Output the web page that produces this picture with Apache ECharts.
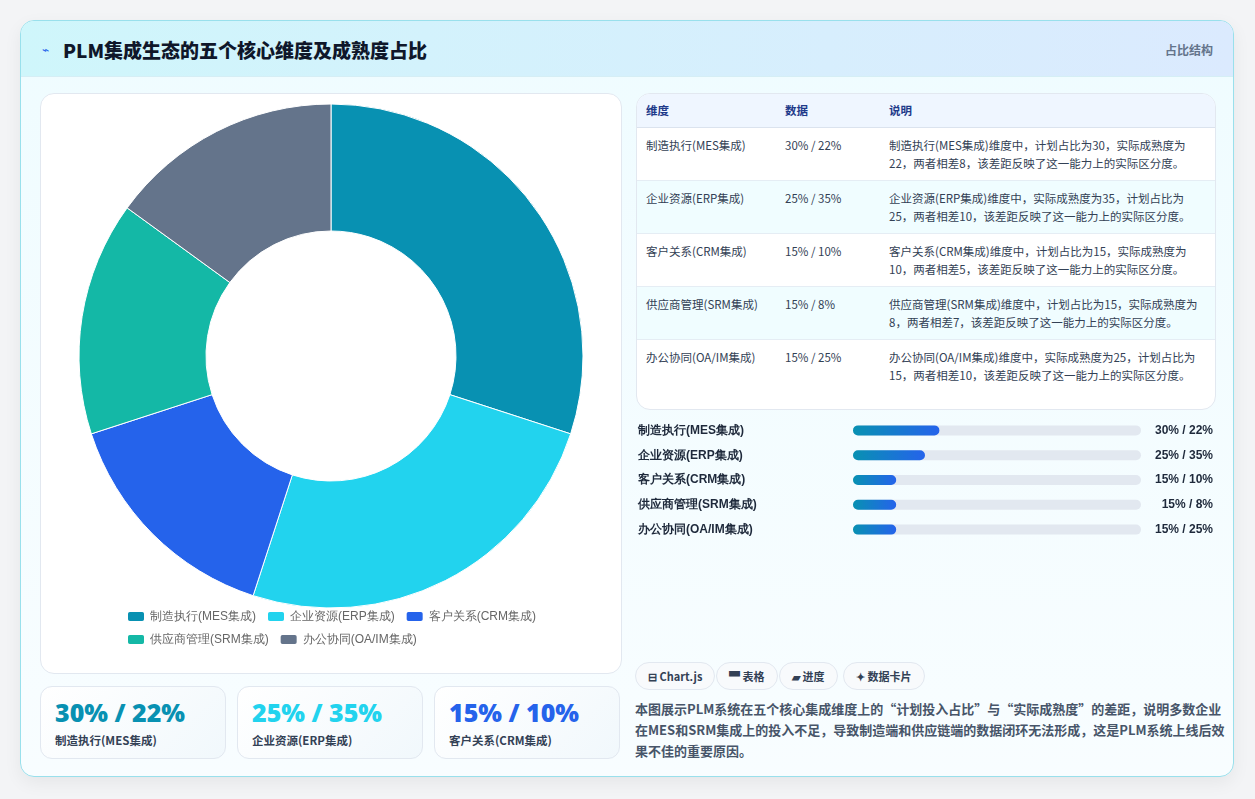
<!DOCTYPE html>
<html>
<head>
<meta charset="utf-8">
<script src="https://cdn.jsdelivr.net/npm/echarts@6/dist/echarts.min.js"></script>
<style>
    * { box-sizing: border-box; margin: 0; padding: 0; }
    body { width: 1255px; height: 799px; background: #f3f4f6; font-family: "Noto Sans CJK SC", "Noto Sans", sans-serif; position: relative; overflow: hidden; }
    .card { position: absolute; left: 20px; top: 20px; width: 1214px; height: 757px; border: 1px solid #99e0ec; border-radius: 14px; background: linear-gradient(180deg, #effcff, #f8fdff); overflow: hidden; box-shadow: 0 6px 18px rgba(0,0,0,0.06); }
    .head { height: 56px; background: linear-gradient(90deg, #cff6fb, #dbeafe); border-bottom: 1px solid #d5eef5; position: relative; }
    .head h1 { position: absolute; left: 42px; top: 15px; font-size: 19px; font-weight: 900; color: #0f172a; }
    .head .ico { position: absolute; left: 21px; top: 19px; font-size: 12px; color: #2563eb; }
    .head .tag { position: absolute; right: 20px; top: 20px; font-size: 12px; font-weight: 700; color: #64748b; }
    .panel { position: absolute; background: #fff; border: 1px solid #e2e8f0; border-radius: 14px; }
    #pie { position: absolute; left: 20px; top: 73px; width: 580px; height: 579px; }
    table { border-collapse: collapse; width: 100%; font-size: 11.5px; color: #334155; }
    th { text-align: left; font-weight: 700; color: #1e3a8a; height: 33px; background: #eff6ff; padding-left: 9px; border-bottom: 1px solid #dbe3ee; }
    td { vertical-align: top; padding: 8px 9px 0 9px; height: 53px; border-bottom: 1px solid #e5edf4; line-height: 18px; }
    tr:last-child td { border-bottom: none; height: 71px; }
    tr:nth-child(odd) td { background: #f0fdff; }
    #bars { position: absolute; left: 614px; top: 397px; width: 581px; height: 124px; }
    .pill { position: absolute; top: 641px; height: 28px; border: 1px solid #e2e8f0; border-radius: 14px; background: #f8fafc; font-size: 11px; font-weight: 700; color: #334155; line-height: 26px; padding: 0 12px; }
    .desc { position: absolute; left: 614px; top: 677px; width: 590px; font-size: 13px; line-height: 21px; font-weight: 600; color: #475569; }
    .stat { position: absolute; top: 665px; width: 186px; height: 73px; background: linear-gradient(135deg, #ffffff, #f1f8fc); border: 1px solid #e2e8f0; border-radius: 12px; }
    .stat b { position: absolute; left: 14px; top: 8px; font-size: 25px; font-weight: 900; font-family: "Noto Sans", sans-serif; }
    .stat span { position: absolute; left: 14px; top: 45px; font-size: 11.5px; font-weight: 700; color: #334155; }
</style>
</head>
<body>
<div class="card">
    <div class="head"><span class="ico">⌁</span><h1>PLM集成生态的五个核心维度及成熟度占比</h1><span class="tag">占比结构</span></div>
    <div class="panel" style="left:19px;top:72px;width:582px;height:581px;"></div>
    <div id="pie"></div>
    <div class="panel" style="left:615px;top:72px;width:580px;height:317px;overflow:hidden;">
        <table id="tbl"></table>
    </div>
    <div id="bars"></div>
    <div id="pills"></div>
    <div class="desc">本图展示PLM系统在五个核心集成维度上的“计划投入占比”与“实际成熟度”的差距，说明多数企业在MES和SRM集成上的投入不足，导致制造端和供应链端的数据闭环无法形成，这是PLM系统上线后效果不佳的重要原因。</div>
    <div id="stats"></div>
</div>
<script>
var names = ['制造执行(MES集成)', '企业资源(ERP集成)', '客户关系(CRM集成)', '供应商管理(SRM集成)', '办公协同(OA/IM集成)'];
var plan = [30, 25, 15, 15, 15];
var actual = [22, 35, 10, 8, 25];
var colorList = ['#0891b2', '#22d3ee', '#2563eb', '#14b8a6', '#64748b'];
var notes = [
    '制造执行(MES集成)维度中，计划占比为30，实际成熟度为22，两者相差8，该差距反映了这一能力上的实际区分度。',
    '企业资源(ERP集成)维度中，实际成熟度为35，计划占比为25，两者相差10，该差距反映了这一能力上的实际区分度。',
    '客户关系(CRM集成)维度中，计划占比为15，实际成熟度为10，两者相差5，该差距反映了这一能力上的实际区分度。',
    '供应商管理(SRM集成)维度中，计划占比为15，实际成熟度为8，两者相差7，该差距反映了这一能力上的实际区分度。',
    '办公协同(OA/IM集成)维度中，实际成熟度为25，计划占比为15，两者相差10，该差距反映了这一能力上的实际区分度。'
];
var pillTexts = ['⊟ Chart.js', '▀ 表格', '▰ 进度', '✦ 数据卡片'];
var pillLefts = [614, 695, 758, 822];

function pairText(i) { return plan[i] + '% / ' + actual[i] + '%'; }

// 表格
var html = '<tr><th style="width:139px">维度</th><th style="width:104px">数据</th><th>说明</th></tr>';
names.forEach(function (n, i) {
    html += '<tr><td>' + n + '</td><td>' + pairText(i) + '</td><td>' + notes[i] + '</td></tr>';
});
document.getElementById('tbl').innerHTML = html;

// 标签
var ph = '';
pillTexts.forEach(function (t, i) { ph += '<div class="pill" style="left:' + pillLefts[i] + 'px">' + t + '</div>'; });
document.getElementById('pills').innerHTML = ph;

// 数据卡片
var sh = '';
[0, 1, 2].forEach(function (i) {
    sh += '<div class="stat" style="left:' + (19 + i * 197) + 'px"><b style="color:' + colorList[i] + '">' + pairText(i) + '</b><span>' + names[i] + '</span></div>';
});
document.getElementById('stats').innerHTML = sh;

// 饼图
var pie = echarts.init(document.getElementById('pie'));
pie.setOption({
    legend: {
        bottom: 22, left: 'center', width: 420,
        itemWidth: 18, itemHeight: 11, itemGap: 10,
        textStyle: { fontSize: 12, color: '#666' },
        data: names
    },
    series: [{
        type: 'pie',
        center: ['50%', 262],
        radius: [125, 252],
        startAngle: 90,
        label: { show: false },
        labelLine: { show: false },
        itemStyle: { borderColor: '#fff', borderWidth: 1 },
        data: names.map(function (n, i) { return { name: n, value: plan[i], itemStyle: { color: colorList[i] } }; })
    }]
});

// 进度条
var bars = echarts.init(document.getElementById('bars'));
bars.setOption({
    grid: { left: 215, right: 72, top: 0, bottom: 0 },
    xAxis: { type: 'value', min: 0, max: 100, show: false },
    yAxis: [{
        type: 'category', inverse: true, data: names,
        axisLine: { show: false }, axisTick: { show: false },
        axisLabel: { align: 'left', margin: 215, fontSize: 12, fontWeight: 'bold', color: '#1e293b' }
    }, {
        type: 'category', inverse: true, position: 'right', data: names.map(function (n, i) { return pairText(i); }),
        axisLine: { show: false }, axisTick: { show: false },
        axisLabel: { align: 'right', margin: 72, fontSize: 12, fontWeight: 'bold', color: '#1e293b' }
    }],
    series: [{
        type: 'bar', data: plan, barWidth: 10,
        showBackground: true,
        backgroundStyle: { color: '#e2e8f0', borderRadius: 5 },
        itemStyle: {
            borderRadius: 5,
            color: new echarts.graphic.LinearGradient(0, 0, 1, 0, [{ offset: 0, color: '#0891b2' }, { offset: 1, color: '#2563eb' }])
        }
    }]
});
</script>
</body>
</html>
